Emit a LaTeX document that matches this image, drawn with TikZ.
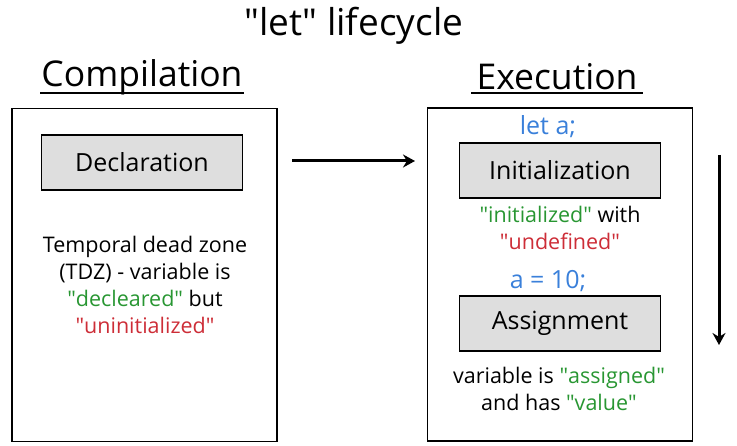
\documentclass[tikz,border=0pt]{standalone}
\usepackage{fontspec}
\setmainfont{Open Sans}
\usetikzlibrary{arrows.meta}
\definecolor{codeblue}{RGB}{58,128,218}
\definecolor{okgreen}{RGB}{40,150,50}
\definecolor{badred}{RGB}{205,45,55}
\definecolor{stepgray}{RGB}{222,222,222}
\newcommand{\qt}[1]{\textquotedbl#1\textquotedbl}
\tikzset{
  phase/.style={draw, line width=1.3pt, minimum width=265pt, minimum height=333pt, inner sep=0pt},
  stage/.style={draw, line width=1.3pt, fill=stepgray, minimum width=201pt, minimum height=55pt, inner sep=0pt, font=\fontsize{25}{28}\selectfont},
  note/.style={align=center, inner sep=0pt, font=\fontsize{21.5}{27}\selectfont},
  code/.style={text=codeblue, inner sep=0pt, font=\fontsize{25}{28}\selectfont},
  heading/.style={inner sep=0pt, font=\fontsize{35.5}{38}\selectfont},
}
\begin{document}
\begin{tikzpicture}[x=1pt, y=-1pt]
	\useasboundingbox (0,0) rectangle (737,446);

	\node[inner sep=0pt, font=\fontsize{37}{40}\selectfont] (title) at (354,26) {\qt{let} lifecycle};
	\node[heading] (comp) at (142,77) {Compilation};
	\node[heading] (exec) at (557,77) {Execution};
	\draw[line width=1.3pt] (40,93) -- (244,93);
	\draw[line width=1.3pt] (471,93) -- (643,93);

	% compilation side
	\node[phase] (compbox) at (144.5,275) {};
	\node[stage] (decl) at (142,162.5) {Declaration};
	\node[note] (tdz) at (145,285) {Temporal dead zone\\(TDZ) - variable is\\\textcolor{okgreen}{\qt{decleared}} but\\\textcolor{badred}{\qt{uninitialized}}};

	% execution side
	\node[phase] (execbox) at (560,274.5) {};
	\node[code] (leta) at (548,127) {let a;};
	\node[stage] (init) at (560,170.5) {Initialization};
	\node[note] (initnote) at (560,228) {\textcolor{okgreen}{\qt{initialized}} with\\\textcolor{badred}{\qt{undefined}}};
	\node[code] (seta) at (548,281) {a = 10;};
	\node[stage] (assign) at (560,323.5) {Assignment};
	\node[note] (assignnote) at (559,389) {variable is \textcolor{okgreen}{\qt{assigned}}\\and has \textcolor{okgreen}{\qt{value}}};

	% arrows
	\coordinate (from) at (292,161);
	\coordinate (to) at (415,161);
	\draw[line width=3pt, -{Stealth[length=12pt, width=13pt]}] (from) -- (to);
	\coordinate (top) at (719,155);
	\coordinate (bottom) at (719,345);
	\draw[line width=3pt, -{Stealth[length=12pt, width=13pt]}] (top) -- (bottom);
\end{tikzpicture}
\end{document}
